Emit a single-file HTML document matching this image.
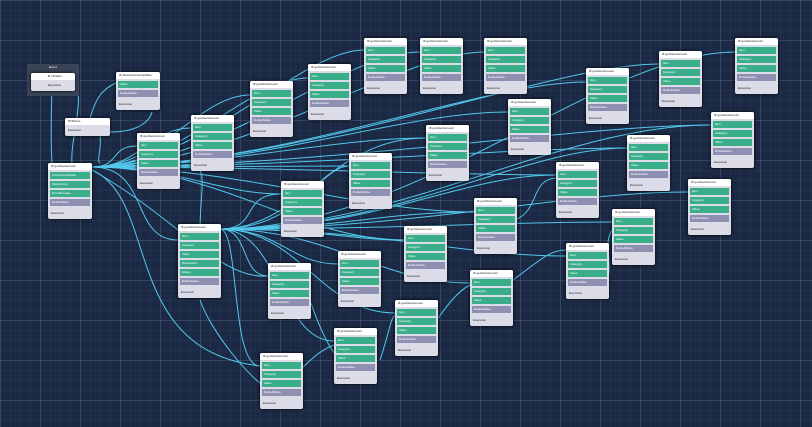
<!DOCTYPE html><html><head><style>
body{margin:0;width:812px;height:427px;overflow:hidden;background:#1b2944;
background-image:linear-gradient(rgba(120,140,170,.22) 1px,transparent 1px),linear-gradient(90deg,rgba(120,140,170,.22) 1px,transparent 1px),linear-gradient(rgba(120,140,170,.08) 1px,transparent 1px),linear-gradient(90deg,rgba(120,140,170,.08) 1px,transparent 1px);
background-size:40px 40px,40px 40px,10px 10px,10px 10px;position:relative;font-family:"Liberation Sans",sans-serif}
svg{position:absolute;left:0;top:0}
.n{position:absolute;width:43px;background:#dcdce8;border-radius:2px;font-size:3px;color:#222;box-shadow:0 0 3px #000}
.h{height:7px;background:#fff;border-radius:2px 2px 0 0;line-height:7px;padding-left:3px;white-space:nowrap;overflow:hidden}
.g{height:7px;margin:2px 2px;background:#3aae89;color:#fff;line-height:7px;padding-left:2px}
.p{height:7px;margin:2px 2px;background:#8d90b0;color:#fff;line-height:7px;padding-left:2px}
.f{height:11px;line-height:11px;padding-left:3px}
.grp{position:absolute;left:27px;top:64px;width:52px;height:32px;background:#3a4457;font-size:3px;color:#fff;text-align:center;line-height:7px}
</style></head><body>
<svg width="812" height="427"><g fill="none" stroke="#52c8ec" stroke-width="1" opacity="1">
<path d="M92 167C120 167 110 146 137 146"/><path d="M92 167C140 167 150 128 191 128"/><path d="M92 167C160 167 200 95 250 95"/><path d="M92 167C180 167 250 78 308 78"/><path d="M92 167C200 167 300 50 364 50"/><path d="M92 167C220 167 340 52 420 52"/><path d="M92 167C240 167 400 52 484 52"/><path d="M92 167C280 167 480 82 586 82"/><path d="M92 167C300 167 550 64 659 64"/><path d="M92 167C260 167 400 112 508 112"/><path d="M92 167C220 167 330 138 426 138"/><path d="M92 167C200 167 260 166 349 166"/><path d="M92 167C180 167 220 194 281 194"/><path d="M92 167C280 167 440 175 556 175"/><path d="M92 167C300 167 500 148 627 148"/><path d="M92 167C320 167 580 125 711 125"/><path d="M92 167C220 167 300 240 404 240"/><path d="M92 167C240 167 360 212 474 212"/><path d="M92 167C150 167 130 240 178 240"/><path d="M92 170C160 200 120 350 260 366"/><path d="M92 170C180 220 220 280 268 276"/>
<path d="M220 229C250 229 240 276 268 276"/><path d="M220 229C280 229 290 264 338 264"/><path d="M220 229C400 229 500 222 612 222"/><path d="M220 229C380 229 460 256 566 256"/><path d="M220 229C330 229 380 283 470 283"/><path d="M220 229C300 229 320 313 395 313"/><path d="M220 229C280 229 280 341 334 341"/><path d="M220 229C240 229 230 366 260 366"/><path d="M220 229C420 229 560 192 688 192"/><path d="M220 229C420 229 600 52 735 52"/><path d="M220 229C300 229 320 166 349 166"/><path d="M220 229C320 229 350 240 404 240"/><path d="M220 229C340 229 380 212 474 212"/><path d="M220 229C380 229 460 175 556 175"/><path d="M220 229C400 229 520 148 627 148"/><path d="M220 229C400 229 560 125 711 125"/><path d="M220 229C300 229 330 138 426 138"/><path d="M220 229C260 229 240 194 281 194"/>
<path d="M52 163C50 130 52 100 52 80"/><path d="M75 80C85 100 70 140 72 163"/><path d="M110 132C140 132 150 120 152 112"/><path d="M88 125C95 100 100 90 116 83"/><path d="M100 135C102 150 96 160 100 163"/>
<path d="M200 230C200 200 205 180 200 170"/><path d="M200 300C210 330 250 380 270 390"/><path d="M310 300C320 330 330 350 340 360"/><path d="M430 330C450 300 460 290 470 285"/><path d="M513 280C540 260 550 250 566 250"/><path d="M600 290C620 270 600 250 612 230"/><path d="M380 360C390 330 390 320 395 315"/><path d="M290 380C310 360 320 350 334 345"/><path d="M515 220C540 210 530 180 556 178"/>
</g></svg>
<div class="grp">Event<div class="n" style="left:4px;top:9px;width:44px"><div class="h">⚙ OnStart</div><div class="f">Execution</div></div></div>
<div class="n" style="left:65px;top:118px;width:45px"><div class="h">⚙ Before</div><div class="f">Execution</div></div>
<div class="n" style="left:116px;top:72px;width:44px"><div class="h">⚙ SetUserAccountValue</div><div class="g">Value</div><div class="p">DefaultValue</div><div class="f">Execution</div></div>
<div class="n" style="left:48px;top:163px;width:44px"><div class="h">⚙ getUserAccount</div><div class="g">UserAccountData</div><div class="g">StatusCode</div><div class="g">ErrorMessage</div><div class="p">DefaultValue</div><div class="f">Execution</div></div>
<div class="n" style="left:178px;top:224px"><div class="h">⚙ getUserAccount</div><div class="g">Item</div><div class="g">Category</div><div class="g">Value</div><div class="g">Description</div><div class="g">Status</div><div class="p">DefaultValue</div><div class="f">Execution</div></div>
<div class="n" style="left:137px;top:133px"><div class="h">⚙ getUserAccount</div><div class="g">Item</div><div class="g">Category</div><div class="g">Value</div><div class="p">DefaultValue</div><div class="f">Execution</div></div>
<div class="n" style="left:191px;top:115px"><div class="h">⚙ getUserAccount</div><div class="g">Item</div><div class="g">Category</div><div class="g">Value</div><div class="p">DefaultValue</div><div class="f">Execution</div></div>
<div class="n" style="left:250px;top:81px"><div class="h">⚙ getUserAccount</div><div class="g">Item</div><div class="g">Category</div><div class="g">Value</div><div class="p">DefaultValue</div><div class="f">Execution</div></div>
<div class="n" style="left:308px;top:64px"><div class="h">⚙ getUserAccount</div><div class="g">Item</div><div class="g">Category</div><div class="g">Value</div><div class="p">DefaultValue</div><div class="f">Execution</div></div>
<div class="n" style="left:364px;top:38px"><div class="h">⚙ getUserAccount</div><div class="g">Item</div><div class="g">Category</div><div class="g">Value</div><div class="p">DefaultValue</div><div class="f">Execution</div></div>
<div class="n" style="left:420px;top:38px"><div class="h">⚙ getUserAccount</div><div class="g">Item</div><div class="g">Category</div><div class="g">Value</div><div class="p">DefaultValue</div><div class="f">Execution</div></div>
<div class="n" style="left:484px;top:38px"><div class="h">⚙ getUserAccount</div><div class="g">Item</div><div class="g">Category</div><div class="g">Value</div><div class="p">DefaultValue</div><div class="f">Execution</div></div>
<div class="n" style="left:586px;top:68px"><div class="h">⚙ getUserAccount</div><div class="g">Item</div><div class="g">Category</div><div class="g">Value</div><div class="p">DefaultValue</div><div class="f">Execution</div></div>
<div class="n" style="left:659px;top:51px"><div class="h">⚙ getUserAccount</div><div class="g">Item</div><div class="g">Category</div><div class="g">Value</div><div class="p">DefaultValue</div><div class="f">Execution</div></div>
<div class="n" style="left:735px;top:38px"><div class="h">⚙ getUserAccount</div><div class="g">Item</div><div class="g">Category</div><div class="g">Value</div><div class="p">DefaultValue</div><div class="f">Execution</div></div>
<div class="n" style="left:508px;top:99px"><div class="h">⚙ getUserAccount</div><div class="g">Item</div><div class="g">Category</div><div class="g">Value</div><div class="p">DefaultValue</div><div class="f">Execution</div></div>
<div class="n" style="left:426px;top:125px"><div class="h">⚙ getUserAccount</div><div class="g">Item</div><div class="g">Category</div><div class="g">Value</div><div class="p">DefaultValue</div><div class="f">Execution</div></div>
<div class="n" style="left:349px;top:153px"><div class="h">⚙ getUserAccount</div><div class="g">Item</div><div class="g">Category</div><div class="g">Value</div><div class="p">DefaultValue</div><div class="f">Execution</div></div>
<div class="n" style="left:281px;top:181px"><div class="h">⚙ getUserAccount</div><div class="g">Item</div><div class="g">Category</div><div class="g">Value</div><div class="p">DefaultValue</div><div class="f">Execution</div></div>
<div class="n" style="left:268px;top:263px"><div class="h">⚙ getUserAccount</div><div class="g">Item</div><div class="g">Category</div><div class="g">Value</div><div class="p">DefaultValue</div><div class="f">Execution</div></div>
<div class="n" style="left:338px;top:251px"><div class="h">⚙ getUserAccount</div><div class="g">Item</div><div class="g">Category</div><div class="g">Value</div><div class="p">DefaultValue</div><div class="f">Execution</div></div>
<div class="n" style="left:404px;top:226px"><div class="h">⚙ getUserAccount</div><div class="g">Item</div><div class="g">Category</div><div class="g">Value</div><div class="p">DefaultValue</div><div class="f">Execution</div></div>
<div class="n" style="left:474px;top:198px"><div class="h">⚙ getUserAccount</div><div class="g">Item</div><div class="g">Category</div><div class="g">Value</div><div class="p">DefaultValue</div><div class="f">Execution</div></div>
<div class="n" style="left:556px;top:162px"><div class="h">⚙ getUserAccount</div><div class="g">Item</div><div class="g">Category</div><div class="g">Value</div><div class="p">DefaultValue</div><div class="f">Execution</div></div>
<div class="n" style="left:627px;top:135px"><div class="h">⚙ getUserAccount</div><div class="g">Item</div><div class="g">Category</div><div class="g">Value</div><div class="p">DefaultValue</div><div class="f">Execution</div></div>
<div class="n" style="left:711px;top:112px"><div class="h">⚙ getUserAccount</div><div class="g">Item</div><div class="g">Category</div><div class="g">Value</div><div class="p">DefaultValue</div><div class="f">Execution</div></div>
<div class="n" style="left:688px;top:179px"><div class="h">⚙ getUserAccount</div><div class="g">Item</div><div class="g">Category</div><div class="g">Value</div><div class="p">DefaultValue</div><div class="f">Execution</div></div>
<div class="n" style="left:612px;top:209px"><div class="h">⚙ getUserAccount</div><div class="g">Item</div><div class="g">Category</div><div class="g">Value</div><div class="p">DefaultValue</div><div class="f">Execution</div></div>
<div class="n" style="left:566px;top:243px"><div class="h">⚙ getUserAccount</div><div class="g">Item</div><div class="g">Category</div><div class="g">Value</div><div class="p">DefaultValue</div><div class="f">Execution</div></div>
<div class="n" style="left:470px;top:270px"><div class="h">⚙ getUserAccount</div><div class="g">Item</div><div class="g">Category</div><div class="g">Value</div><div class="p">DefaultValue</div><div class="f">Execution</div></div>
<div class="n" style="left:395px;top:300px"><div class="h">⚙ getUserAccount</div><div class="g">Item</div><div class="g">Category</div><div class="g">Value</div><div class="p">DefaultValue</div><div class="f">Execution</div></div>
<div class="n" style="left:334px;top:328px"><div class="h">⚙ getUserAccount</div><div class="g">Item</div><div class="g">Category</div><div class="g">Value</div><div class="p">DefaultValue</div><div class="f">Execution</div></div>
<div class="n" style="left:260px;top:353px"><div class="h">⚙ getUserAccount</div><div class="g">Item</div><div class="g">Category</div><div class="g">Value</div><div class="p">DefaultValue</div><div class="f">Execution</div></div>
</body></html>
